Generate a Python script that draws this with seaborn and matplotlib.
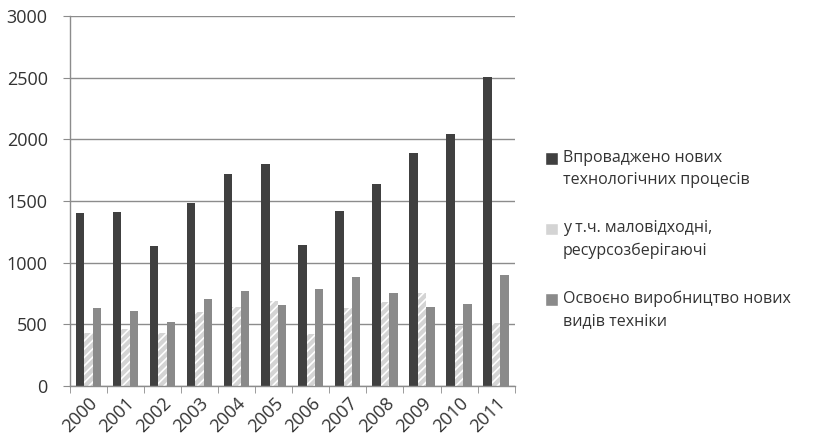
import pandas as pd
import seaborn as sns
import matplotlib.pyplot as plt

# дані з графіка
years = ["2000", "2001", "2002", "2003", "2004", "2005",
         "2006", "2007", "2008", "2009", "2010", "2011"]
vprovadzheno = [1400, 1410, 1135, 1485, 1720, 1800, 1145, 1415, 1640, 1890, 2045, 2505]
malovidkhodni = [430, 462, 430, 600, 640, 690, 420, 630, 680, 752, 482, 510]
osvoeno = [632, 608, 519, 705, 772, 657, 786, 884, 755, 640, 665, 895]

series_names = ["Впроваджено нових\nтехнологічних процесів",
                "у т.ч. маловідходні,\nресурсозберігаючі",
                "Освоєно виробництво нових\nвидів техніки"]
colors = ["#404040", "#d4d4d4", "#8a8a8a"]

df = pd.DataFrame({
    "year": years * 3,
    "value": vprovadzheno + malovidkhodni + osvoeno,
    "series": [series_names[0]] * 12 + [series_names[1]] * 12 + [series_names[2]] * 12,
})

sns.set_style("white")
plt.rcParams["font.family"] = ["Open Sans", "DejaVu Sans"]
plt.rcParams["hatch.color"] = "#f2f2f2"
plt.rcParams["hatch.linewidth"] = 1.2

fig = plt.figure(figsize=(8.13, 4.46), dpi=100)
ax = fig.add_axes([0.086, 0.135, 0.547, 0.829])

sns.barplot(data=df, x="year", y="value", hue="series", palette=colors,
            width=0.68, gap=0, ax=ax, legend=True)

for bar in ax.containers[1]:
    bar.set_hatch("////")
for c in ax.containers:
    for bar in c:
        bar.set_linewidth(0)

ax.set_ylim(0, 3000)
ax.set_yticks(range(0, 3001, 500))
ax.set_xlim(-0.5, 11.5)
ax.yaxis.grid(True, color="#8c8c8c", linewidth=1)
ax.set_axisbelow(True)
ax.set_xlabel("")
ax.set_ylabel("")

for s in ["top", "right"]:
    ax.spines[s].set_visible(False)
for s in ["left", "bottom"]:
    ax.spines[s].set_color("#8c8c8c")
    ax.spines[s].set_linewidth(1)

ax.set_xticks([i - 0.5 for i in range(13)], minor=True)
ax.tick_params(axis="x", which="minor", direction="out", length=5, color="#8c8c8c", bottom=True)
ax.tick_params(axis="x", which="major", length=0, labelsize=13, colors="#333333", pad=6)
ax.tick_params(axis="y", direction="out", length=5, color="#8c8c8c", left=True,
               labelsize=13, labelcolor="#333333", pad=11)
plt.setp(ax.get_xticklabels(), rotation=45, ha="right", rotation_mode="anchor")

leg = ax.legend(loc="center left", bbox_to_anchor=(1.035, 0.395), frameon=False,
                fontsize=11.5, handlelength=0.85, handleheight=0.85,
                handletextpad=0.3, labelspacing=2.0)
for t in leg.get_texts():
    t.set_color("#333333")
    t.set_linespacing(1.5)
for h in leg.legend_handles:
    h.set_y(h.get_y() + 8)

fig.savefig("out.png", dpi=100)
